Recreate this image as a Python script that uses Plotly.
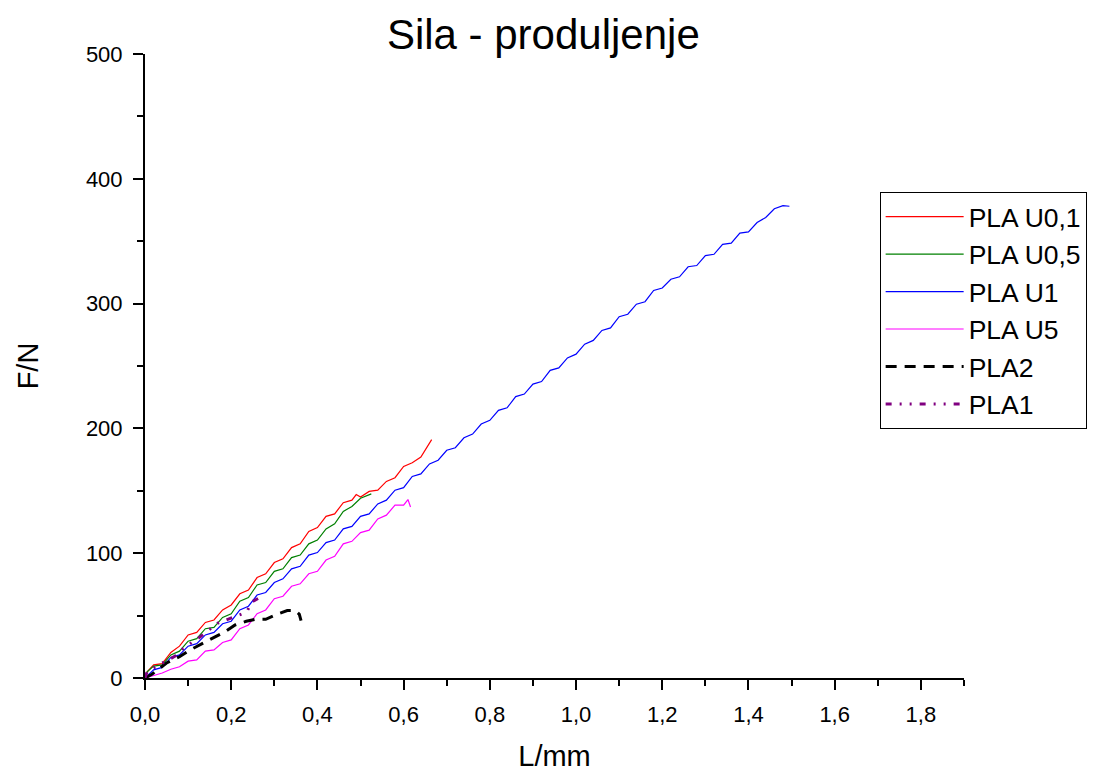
import plotly.graph_objects as go

# data (L in mm, F in N)
u01_L = [0, 0.005, 0.02, 0.04, 0.06, 0.08, 0.10, 0.12, 0.14, 0.16, 0.18, 0.20, 0.22, 0.24, 0.26, 0.28,
         0.30, 0.32, 0.34, 0.36, 0.38, 0.40, 0.42, 0.44, 0.46, 0.48, 0.49, 0.50, 0.52, 0.54, 0.56, 0.58,
         0.60, 0.62, 0.64, 0.655, 0.665]
u01_F = [0, 5, 10.5, 11.5, 20.5, 25.5, 34.5, 36.5, 44.5, 46.5, 54.5, 58.5, 67.5, 70.5, 80.5, 83.5,
         92.5, 95.5, 104.5, 107.5, 117.5, 120.5, 129.5, 131.5, 140.5, 142.5, 147, 145, 149.5, 150.5, 157.5, 160.5,
         169.5, 172.5, 177, 186, 191]

u05_L = [0, 0.005, 0.02, 0.04, 0.06, 0.08, 0.10, 0.12, 0.14, 0.16, 0.18, 0.20, 0.22, 0.24, 0.26, 0.28,
         0.30, 0.32, 0.34, 0.36, 0.38, 0.40, 0.42, 0.44, 0.46, 0.48, 0.50, 0.525]
u05_F = [0, 5, 9.5, 10.5, 18.5, 21.5, 29.5, 31.5, 39.5, 40.5, 48.5, 51.5, 61.5, 64.5, 74.5, 76.5,
         85.5, 87.5, 96.5, 98.5, 107.5, 110.5, 119.5, 123.5, 133.5, 137.5, 144, 147.5]

u1_L = [0, 0.02, 0.04, 0.06, 0.08, 0.10, 0.12, 0.14, 0.16, 0.18, 0.20, 0.22, 0.24, 0.26, 0.28, 0.30,
        0.32, 0.34, 0.36, 0.38, 0.40, 0.42, 0.44, 0.46, 0.48, 0.50, 0.52, 0.54, 0.56, 0.58, 0.60, 0.62,
        0.64, 0.66, 0.68, 0.70, 0.72, 0.74, 0.76, 0.78, 0.80, 0.82, 0.84, 0.86, 0.88, 0.90, 0.92, 0.94,
        0.96, 0.98, 1.00, 1.02, 1.04, 1.06, 1.08, 1.10, 1.12, 1.14, 1.16, 1.18, 1.20, 1.22, 1.24, 1.26,
        1.28, 1.30, 1.32, 1.34, 1.36, 1.38, 1.40, 1.42, 1.44, 1.46, 1.48, 1.495]
u1_F = [0, 6.5, 8.5, 16.5, 18.5, 25.5, 27.5, 34.5, 36.5, 43.5, 45.5, 54.5, 57.5, 66.5, 68.5, 76.5,
        79.5, 87.5, 89.5, 98.5, 100.5, 108.5, 110.5, 119.5, 121.5, 129.5, 131.5, 139.5, 142.5, 150.5, 152.5, 161.5,
        163.5, 171.5, 174.5, 182.5, 184.5, 192.5, 195.5, 203.5, 206.5, 214.5, 216.5, 225.5, 227.5, 235.5, 237.5, 246.5,
        248.5, 256.5, 259.5, 267.5, 270.5, 278.5, 280.5, 289.5, 291.5, 299.5, 301.5, 310.5, 312.5, 319.5, 321.5, 329.5,
        330.5, 338.5, 339.5, 347.5, 348.5, 356.5, 357.5, 365, 369, 376, 378.5, 378]

u5_L = [0, 0.02, 0.04, 0.06, 0.08, 0.10, 0.12, 0.14, 0.16, 0.18, 0.20, 0.22, 0.24, 0.26, 0.28, 0.30,
        0.32, 0.34, 0.36, 0.38, 0.40, 0.42, 0.44, 0.46, 0.48, 0.50, 0.52, 0.54, 0.56, 0.58, 0.60, 0.61, 0.616]
u5_F = [0, 2, 4, 7, 9, 13.5, 14.5, 21.5, 22.5, 28.5, 30.5, 39.5, 42.5, 51.5, 54.5, 63.5,
        65.5, 73.5, 75.5, 83.5, 85.5, 94.5, 97.5, 107.5, 109.5, 116.5, 118.5, 127.5, 130.5, 138.5, 138.5, 143, 137]

pla2_L = [0, 0.016, 0.05, 0.08, 0.105, 0.13, 0.159, 0.185, 0.209, 0.235, 0.256, 0.28, 0.306, 0.33, 0.349, 0.358, 0.362]
pla2_F = [0, 3, 12, 17, 22.5, 27, 32, 37, 42.5, 45.5, 47, 47, 51, 54, 54, 51, 46]

pla1_L = [0, 0.005, 0.03, 0.07, 0.089, 0.128, 0.168, 0.194, 0.215, 0.236, 0.248, 0.264]
pla1_F = [0, 5, 10, 17.6, 23.8, 33, 43.8, 47, 50, 53, 61, 64]

x_ticks = [0, 0.2, 0.4, 0.6, 0.8, 1.0, 1.2, 1.4, 1.6, 1.8]
x_labels = ["0,0", "0,2", "0,4", "0,6", "0,8", "1,0", "1,2", "1,4", "1,6", "1,8"]
y_ticks = [0, 100, 200, 300, 400, 500]

fig = go.Figure()
fig.add_trace(go.Scatter(x=u01_L, y=u01_F, mode="lines", name="PLA U0,1",
                         line=dict(color="#ff0000", width=1.2)))
fig.add_trace(go.Scatter(x=u05_L, y=u05_F, mode="lines", name="PLA U0,5",
                         line=dict(color="#008000", width=1.2)))
fig.add_trace(go.Scatter(x=u1_L, y=u1_F, mode="lines", name="PLA U1",
                         line=dict(color="#0000ff", width=1.2)))
fig.add_trace(go.Scatter(x=u5_L, y=u5_F, mode="lines", name="PLA U5",
                         line=dict(color="#ff00ff", width=1.2)))
fig.add_trace(go.Scatter(x=pla2_L, y=pla2_F, mode="lines", name="PLA2",
                         line=dict(color="black", width=3, dash="11px,8px")))
fig.add_trace(go.Scatter(x=pla1_L, y=pla1_F, mode="lines", name="PLA1",
                         line=dict(color="#800080", width=3, dash="6px,8px,2px,8px,2px,8px")))

# page body has an 8px margin, so the figure is a bit smaller and margins shifted
font = "Liberation Sans, Arial, sans-serif"
fig.update_layout(
    width=1097, height=764,
    margin=dict(l=137, r=141, t=46, b=94),
    paper_bgcolor="white", plot_bgcolor="white",
    font=dict(family=font, color="black", size=21),
    title=dict(text="Sila - produljenje", x=0.488, xanchor="center", y=0.965, yanchor="middle",
               font=dict(size=42, family=font, color="black")),
    showlegend=True,
    legend=dict(x=0.897, xanchor="left", y=0.779, yanchor="top",
                bordercolor="black", borderwidth=1, bgcolor="white",
                font=dict(size=26.5, family=font), itemwidth=78,
                entrywidth=145, entrywidthmode="pixels",
                tracegroupgap=0),
)
fig.update_xaxes(
    range=[0, 1.9], tickvals=x_ticks, ticktext=x_labels, automargin=False,
    showgrid=False, zeroline=False,
    showline=True, linecolor="black", linewidth=2,
    ticks="outside", ticklen=10, tickwidth=2, tickcolor="black", ticklabelstandoff=6,
    minor=dict(ticks="outside", ticklen=6, tickwidth=2, tickcolor="black", dtick=0.1, tick0=0),
    tickfont=dict(size=22),
    title=dict(text="L/mm", font=dict(size=29), standoff=28),
)
fig.update_yaxes(
    range=[0, 500], tickvals=y_ticks, automargin=False,
    showgrid=False, zeroline=False,
    showline=True, linecolor="black", linewidth=2,
    ticks="outside", ticklen=10, tickwidth=2, tickcolor="black", ticklabelstandoff=6,
    minor=dict(ticks="outside", ticklen=6, tickwidth=2, tickcolor="black", dtick=50, tick0=0),
    tickfont=dict(size=22),
    title=dict(text="F/N", font=dict(size=29), standoff=39),
)

fig.write_html("out.html")
